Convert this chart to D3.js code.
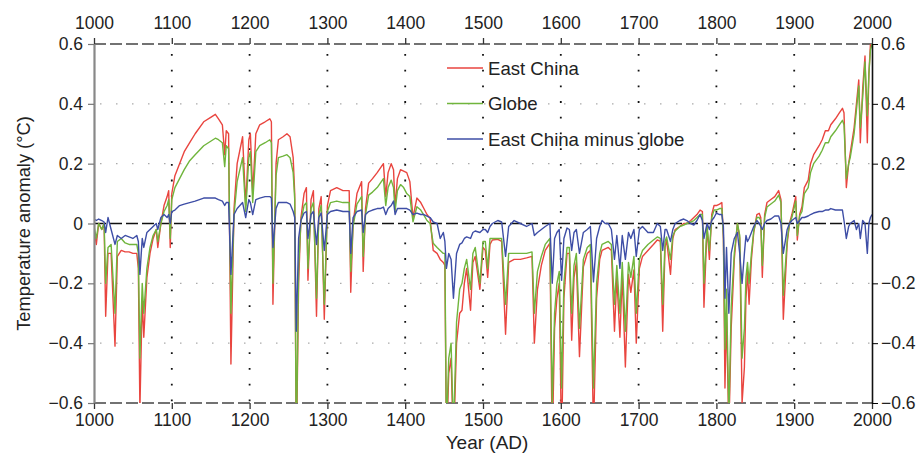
<!DOCTYPE html>
<html>
<head>
<meta charset="utf-8">
<script src="https://cdnjs.cloudflare.com/ajax/libs/d3/7.8.5/d3.min.js"></script>
<style>
  body { margin: 0; background: #fff; }
  svg { display: block; font-family: "Liberation Sans", Arial, sans-serif; }
</style>
</head>
<body>
<script>
// years sampled from the figure (one group per century)
let years = [
  1000,1003,1006,1010,1013,1015,1018,1022,1027,1030,1035,1040,1045,1050,1055,1057,1059,1062,1064,1068,1072,1076,1080,1082,1086,1090,1094,1096,1098,
  1100,1104,1110,1116,1123,1130,1141,1150,1156,1160,1165,1168,1170,1173,1176,1180,1184,1191,1195,1199,
  1201,1204,1208,1213,1220,1226,1228,1230,1234,1237,1243,1248,1252,1256,1258,1260,1263,1266,1270,1273,1275,1279,1282,1286,1289,1292,1296,
  1300,1304,1312,1320,1326,1328,1330,1333,1338,1344,1346,1349,1353,1358,1364,1368,1372,1375,1378,1382,1385,1387,1390,1394,1398,
  1402,1406,1410,1415,1420,1424,1428,1432,1436,1441,1445,1449,1451,1453,1456,1459,1462,1466,1470,1473,1476,1479,1484,1487,1490,1496,
  1500,1503,1506,1509,1512,1519,1524,1529,1533,1540,1548,1556,1563,1566,1570,1575,1580,1586,1589,1592,1595,1598,
  1601,1604,1608,1611,1614,1617,1620,1624,1629,1634,1638,1642,1646,1650,1653,1657,1661,1665,1669,1672,1676,1679,1683,1687,1690,1694,1697,
  1701,1705,1712,1719,1724,1728,1731,1734,1736,1741,1744,1747,1753,1758,1762,1767,1771,1775,1779,1782,1784,1788,1791,1794,1797,
  1800,1804,1807,1809,1811,1813,1816,1819,1823,1827,1830,1833,1836,1838,1840,1842,1845,1848,1852,1855,1857,1859,1862,1865,1870,1875,1880,1883,1886,1891,1894,1897,
  1902,1904,1907,1910,1913,1918,1921,1925,1932,1936,1940,1944,1947,1953,1958,1962,1964,1967,1970,1972,1977,1980,1983,1985,1988,1991,1994,1996,1998,2000
]

let eastChina = [
  -0.02,-0.07,0,-0.02,0,-0.31,-0.1,-0.1,-0.41,-0.11,-0.09,-0.095,-0.095,-0.1,-0.1,-0.15,-0.62,-0.25,-0.38,-0.18,-0.1,-0.05,-0.02,-0.08,0,0.06,0.09,0.11,-0.08,
  0.1,0.16,0.2,0.24,0.27,0.3,0.34,0.355,0.365,0.35,0.33,0.23,0.31,0.3,-0.47,0.05,0.2,0.29,0.06,0.28,
  0.3,0.1,0.3,0.33,0.34,0.35,0.34,-0.27,0.2,0.28,0.29,0.3,0.29,0.22,0.1,-0.8,-0.2,0.02,0.1,0.12,-0.19,0.08,0.11,-0.31,0.05,0.09,-0.32,
  0.06,0.11,0.12,0.11,0.11,0.11,-0.23,0,0.1,0.14,-0.16,0.05,0.135,0.15,0.17,0.185,0.2,0.09,0.17,0.2,0.18,0.056,0.15,0.18,0.175,
  0.17,0.14,0.02,0.085,0.07,0.05,0.03,0.017,-0.09,-0.1,-0.12,-0.13,-0.14,-0.75,-0.5,-0.45,-0.75,-0.4,-0.3,-0.29,-0.2,-0.15,-0.29,-0.13,-0.11,-0.22,
  -0.08,-0.09,-0.18,-0.07,-0.055,-0.053,-0.06,-0.37,-0.13,-0.12,-0.12,-0.115,-0.11,-0.4,-0.22,-0.14,-0.09,-0.066,-0.75,-0.35,-0.25,-0.2,
  -0.75,-0.25,-0.1,-0.1,-0.39,-0.18,-0.13,-0.445,-0.145,-0.1,-0.09,-0.7,-0.25,-0.12,-0.09,-0.085,-0.08,-0.09,-0.36,-0.18,-0.38,-0.17,-0.48,-0.17,-0.23,-0.155,-0.4,
  -0.15,-0.11,-0.09,-0.07,-0.055,-0.06,-0.36,-0.08,-0.055,-0.17,-0.05,-0.02,-0.01,0,0,0.01,0.02,0.03,0.045,0.04,-0.28,-0.01,-0.12,0.03,0.06,
  0.06,0.065,0.07,-0.05,-0.55,-0.3,-0.7,-0.35,-0.12,0,-0.05,-0.6,-0.48,-0.25,-0.16,-0.27,-0.12,-0.03,0.03,0.034,0.02,-0.18,0.03,0.07,0.08,0.09,0.11,0.08,-0.32,-0.066,0,0.03,
  0.09,-0.055,0.03,0.056,0.12,0.145,0.2,0.23,0.26,0.28,0.31,0.31,0.33,0.35,0.37,0.385,0.37,0.12,0.2,0.235,0.32,0.4,0.48,0.27,0.45,0.56,0.27,0.5,0.6,0.62
]

let globe = [
  -0.01,-0.05,0,-0.02,0,-0.2,-0.08,-0.07,-0.3,-0.06,-0.05,-0.065,-0.07,-0.07,-0.07,-0.1,-0.45,-0.2,-0.3,-0.15,-0.08,-0.04,-0.02,-0.06,0,0.04,0.06,0.08,-0.05,
  0.08,0.12,0.15,0.18,0.21,0.23,0.26,0.275,0.285,0.28,0.27,0.19,0.26,0.25,-0.3,0.03,0.14,0.22,0.04,0.22,
  0.24,0.07,0.24,0.26,0.27,0.28,0.27,-0.2,0.16,0.22,0.225,0.23,0.22,0.17,0.08,-0.75,-0.15,0.01,0.06,0.07,-0.15,0.05,0.07,-0.25,0.03,0.06,-0.27,
  0.04,0.07,0.075,0.07,0.07,0.07,-0.16,-0.01,0.065,0.09,-0.11,0.03,0.095,0.105,0.12,0.135,0.15,0.06,0.12,0.145,0.12,0.04,0.11,0.13,0.12,
  0.1,0.09,0.006,0.056,0.045,0.028,0.01,0,-0.066,-0.08,-0.09,-0.1,-0.1,-0.7,-0.45,-0.4,-0.7,-0.33,-0.22,-0.2,-0.15,-0.12,-0.22,-0.1,-0.08,-0.2,
  -0.06,-0.06,-0.15,-0.05,-0.05,-0.05,-0.05,-0.27,-0.1,-0.1,-0.1,-0.1,-0.095,-0.3,-0.16,-0.11,-0.07,-0.05,-0.6,-0.3,-0.2,-0.16,
  -0.55,-0.2,-0.08,-0.08,-0.3,-0.14,-0.1,-0.35,-0.12,-0.08,-0.07,-0.55,-0.2,-0.1,-0.07,-0.065,-0.06,-0.07,-0.27,-0.14,-0.3,-0.13,-0.36,-0.13,-0.18,-0.11,-0.3,
  -0.12,-0.09,-0.07,-0.055,-0.045,-0.05,-0.27,-0.06,-0.045,-0.12,-0.04,-0.025,-0.01,-0.005,0,0.005,0.01,0.02,0.03,0.03,-0.2,-0.01,-0.09,0.02,0.045,
  0.045,0.05,0.05,-0.04,-0.42,-0.22,-0.65,-0.28,-0.1,0,-0.04,-0.45,-0.35,-0.18,-0.13,-0.2,-0.1,-0.025,0.02,0.02,0.01,-0.14,0.02,0.055,0.065,0.075,0.095,0.07,-0.24,-0.055,0,0.02,
  0.075,-0.04,0.025,0.04,0.1,0.12,0.17,0.2,0.225,0.245,0.27,0.27,0.29,0.31,0.33,0.345,0.33,0.15,0.2,0.22,0.3,0.38,0.46,0.32,0.42,0.54,0.36,0.5,0.58,0.6
]

let eastChinaMinusGlobe = [
  0.015,0.01,0.015,0.01,0.005,-0.03,0.02,-0.02,-0.07,-0.04,-0.05,-0.04,-0.045,-0.05,-0.04,-0.06,-0.17,-0.05,-0.08,-0.03,-0.02,-0.01,0,-0.02,0.02,0.03,0.02,0.03,0,
  0.04,0.045,0.06,0.065,0.07,0.075,0.085,0.085,0.085,0.08,0.075,0.06,0.07,0.07,-0.17,0.03,0.05,0.07,0.02,0.08,
  0.07,0.03,0.08,0.085,0.09,0.09,0.085,-0.08,0.05,0.07,0.07,0.07,0.065,0.04,0.02,-0.36,-0.05,0.01,0.035,0.04,-0.05,0.03,0.04,-0.07,0.02,0.035,-0.09,
  0.03,0.04,0.045,0.04,0.04,0.04,-0.1,0.02,0.04,0.045,-0.03,0.03,0.04,0.045,0.05,0.05,0.055,0.03,0.05,0.06,0.075,0.03,0.05,0.05,0.05,
  0.05,0.045,0.03,0.035,0.03,0.03,0.025,0.02,0.005,0,-0.05,-0.03,-0.06,-0.15,-0.1,-0.12,-0.25,-0.1,-0.07,-0.065,-0.05,-0.045,-0.05,-0.03,-0.025,-0.03,
  -0.02,-0.02,-0.03,-0.01,0,0.01,0.005,-0.11,-0.01,0.01,0,-0.01,0,-0.04,-0.03,-0.02,-0.01,0,-0.2,-0.05,-0.03,-0.02,
  -0.19,-0.05,-0.015,-0.02,-0.09,-0.03,-0.02,-0.1,-0.03,-0.02,-0.01,-0.195,-0.05,-0.01,0.01,0,0,-0.02,-0.12,-0.04,-0.15,-0.04,-0.12,-0.03,-0.05,-0.02,-0.11,
  -0.02,-0.01,-0.03,-0.03,0,-0.01,-0.09,-0.02,-0.02,-0.06,-0.02,0,0.01,0.015,0.01,0,-0.005,0.01,0.03,0.01,-0.05,0,-0.02,0.01,0.02,
  0.035,0.03,0.03,-0.01,-0.25,-0.08,-0.3,-0.1,-0.05,-0.03,-0.1,-0.2,-0.1,-0.04,-0.06,-0.05,-0.03,-0.01,0.01,0,-0.01,-0.02,0,0.01,0.015,0.025,0.025,0,-0.1,-0.02,0,0.01,
  0.02,0,0.01,0.02,0.02,0.025,0.03,0.035,0.04,0.04,0.045,0.045,0.05,0.045,0.045,0.045,0.01,-0.05,-0.01,0,0.01,-0.02,0,-0.05,0.01,0,-0.1,0,0.02,0.03
]

let seriesNames = ["East China", "Globe", "East China minus globe"]
let seriesColors = ["#e9453f", "#70b53c", "#3e4ea6"]

let xTicks = [1000,1100,1200,1300,1400,1500,1600,1700,1800,1900,2000]
let yTicks = [-0.6,-0.4,-0.2,0,0.2,0.4,0.6]
let yTickLabels = ["\u22120.6","\u22120.4","\u22120.2","0","0.2","0.4","0.6"]

// chart variables
let width = 921
let height = 453
let margin = {top: 44, right: 49, bottom: 50, left: 94}

let x = d3.scaleLinear()
          .domain([1000, 2000])
          .range([margin.left, width - margin.right])

let y = d3.scaleLinear()
          .domain([-0.6, 0.6])
          .range([height - margin.bottom, margin.top])

let svg = d3.select("body")
            .append("svg")
            .attr("width", width)
            .attr("height", height)

svg.append("defs").append("clipPath")
   .attr("id", "plotClip")
   .append("rect")
   .attr("x", x(1000))
   .attr("y", y(0.6))
   .attr("width", x(2000) - x(1000))
   .attr("height", y(-0.6) - y(0.6))

// light grey dotted horizontal grid
svg.append("g")
   .selectAll("line")
   .data(yTicks.filter(d => d !== 0 && Math.abs(d) < 0.6))
   .join("line")
   .attr("x1", x(1000) + 6)
   .attr("x2", x(2000))
   .attr("y1", d => y(d))
   .attr("y2", d => y(d))
   .attr("stroke", "#aaa")
   .attr("stroke-width", 1.3)
   .attr("stroke-dasharray", "1.5,14.5")

// black dotted vertical grid at each century
svg.append("g")
   .selectAll("line")
   .data(xTicks.slice(1, -1))
   .join("line")
   .attr("x1", d => x(d))
   .attr("x2", d => x(d))
   .attr("y1", y(0.6) + 10)
   .attr("y2", y(-0.6))
   .attr("stroke", "#111")
   .attr("stroke-width", 1.8)
   .attr("stroke-dasharray", "1.8,13.9")

// dashed frame top/bottom and zero line
let dashed = [
  {v: 0.6, c: "#444"},
  {v: -0.6, c: "#444"},
  {v: 0, c: "#111"}
]
svg.append("g")
   .selectAll("line")
   .data(dashed)
   .join("line")
   .attr("x1", x(1000))
   .attr("x2", x(2000))
   .attr("y1", d => y(d.v))
   .attr("y2", d => y(d.v))
   .attr("stroke", d => d.c)
   .attr("stroke-width", 1.6)
   .attr("stroke-dasharray", "12,4")

// lines, red first so blue sits on top
let plot = svg.append("g").attr("clip-path", "url(#plotClip)")
let allSeries = [eastChina, globe, eastChinaMinusGlobe]
allSeries.forEach(function(vals, i) {
  let line = d3.line()
               .x(function(d, j) { return x(years[j]) })
               .y(function(d) { return y(d) })
  plot.append("path")
      .datum(vals)
      .attr("d", line)
      .style("fill", "none")
      .style("stroke", seriesColors[i])
      .style("stroke-width", 1.4)
      .style("stroke-linejoin", "round")
})

// axes
let fontSize = "17.5px"
let fmtY = d => yTickLabels[yTicks.indexOf(d)]

let topAxis = svg.append("g")
   .attr("transform", `translate(0,${y(0.6)})`)
   .call(d3.axisTop(x).tickValues(xTicks).tickFormat(d3.format("d")).tickSize(6).tickPadding(9))
topAxis.select(".domain").remove()

let bottomAxis = svg.append("g")
   .attr("transform", `translate(0,${y(-0.6)})`)
   .call(d3.axisBottom(x).tickValues(xTicks).tickFormat(d3.format("d")).tickSize(6).tickPadding(5))
bottomAxis.select(".domain").remove()

let leftAxis = svg.append("g")
   .attr("transform", `translate(${x(1000)},0)`)
   .call(d3.axisLeft(y).tickValues(yTicks).tickFormat(fmtY).tickSizeInner(6).tickSizeOuter(0).tickPadding(5))
leftAxis.select(".domain").attr("stroke", "#888").attr("stroke-width", 2.2)
leftAxis.selectAll(".tick line").attr("stroke", "#777").attr("stroke-width", 1.2)

let rightAxis = svg.append("g")
   .attr("transform", `translate(${x(2000)},0)`)
   .call(d3.axisRight(y).tickValues(yTicks).tickFormat(fmtY).tickSizeInner(6).tickSizeOuter(0).tickPadding(3))
rightAxis.select(".domain").attr("stroke", "#111").attr("stroke-width", 1.6)

svg.selectAll(".tick text")
   .attr("font-size", fontSize)
   .attr("font-family", "Liberation Sans, Arial, sans-serif")
   .attr("fill", "#222")
topAxis.selectAll(".tick line").attr("stroke", "#333").attr("stroke-width", 1.3)
bottomAxis.selectAll(".tick line").attr("stroke", "#333").attr("stroke-width", 1.3)

// axis titles
svg.append("text")
   .attr("x", 487)
   .attr("y", 449)
   .attr("text-anchor", "middle")
   .attr("font-size", "19px")
   .attr("fill", "#222")
   .text("Year (AD)")

svg.append("text")
   .attr("transform", `translate(30,${(y(0.6) + y(-0.6)) / 2}) rotate(-90)`)
   .attr("text-anchor", "middle")
   .attr("font-size", "18.3px")
   .attr("fill", "#222")
   .text("Temperature anomaly (\u00B0C)")

// legend
let legend = svg.append("g")
   .selectAll("g")
   .data(seriesNames)
   .join("g")
   .attr("transform", (d, i) => `translate(447,${68 + i * 35.5})`)
legend.append("line")
   .attr("x1", 0).attr("x2", 36)
   .attr("stroke", (d, i) => seriesColors[i])
   .attr("stroke-width", 1.6)
legend.append("text")
   .attr("x", 41)
   .attr("y", 6.5)
   .attr("font-size", "18.6px")
   .attr("fill", "#222")
   .text(d => d)
</script>
</body>
</html>
